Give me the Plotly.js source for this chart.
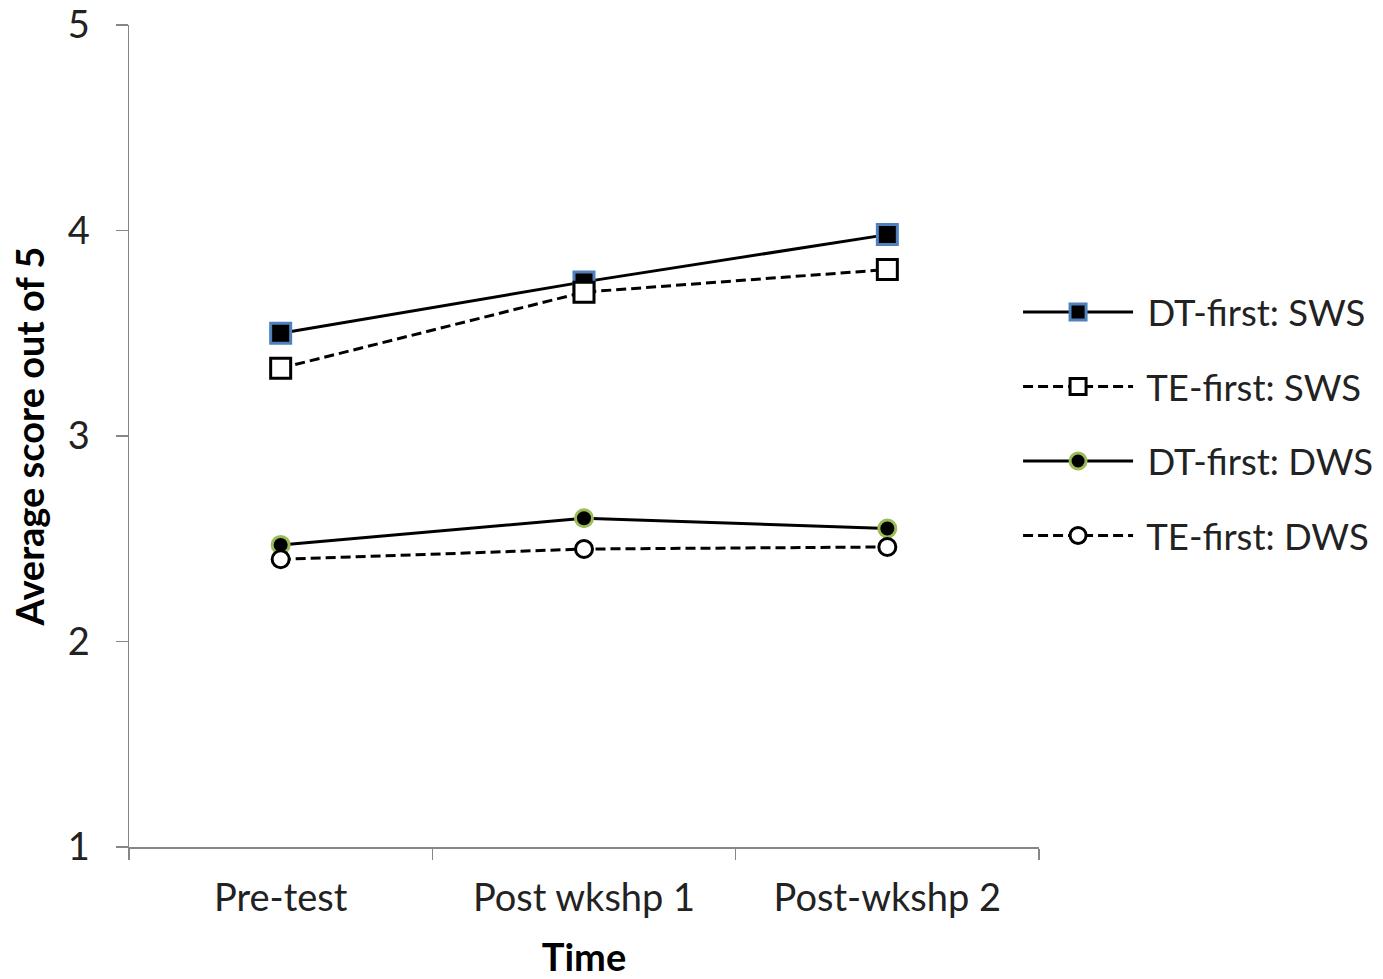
<!DOCTYPE html>
<html>
<head>
<meta charset="utf-8">
<script src="https://cdn.plot.ly/plotly-3.0.1.min.js"></script>
<style>
  html, body { margin: 0; padding: 0; background: #fff; }
  #chart { width: 1383px; height: 979px; }
</style>
</head>
<body>
<div id="chart"></div>
<script>
// Measurement occasions
const timePoints = ["Pre-test", "Post wkshp 1", "Post-wkshp 2"];

// Average scores (out of 5) per group and task
const dtFirstSWS = [3.50, 3.75, 3.98];
const teFirstSWS = [3.33, 3.70, 3.81];
const dtFirstDWS = [2.47, 2.60, 2.55];
const teFirstDWS = [2.40, 2.45, 2.46];

const seriesNames = ["DT-first: SWS", "TE-first: SWS", "DT-first: DWS", "TE-first: DWS"];

const FONT = "Lato, 'Open Sans', 'Liberation Sans', sans-serif";
const TXT = 38;

function series(name, values, dash, symbol, fill, edge, size, group) {
  return {
    type: "scatter",
    mode: "lines+markers",
    // a little breathing room between the legend symbol and its label
    name: "\u00A0" + name,
    legendgroup: group,
    x: timePoints,
    y: values,
    line: { color: "#000000", width: 3, dash: dash },
    marker: { symbol: symbol, size: size, color: fill, line: { color: edge, width: 3 } }
  };
}

const traces = [
  series(seriesNames[0], dtFirstSWS, "solid", "square", "#000000", "#4F81BD", 20, "g1"),
  series(seriesNames[1], teFirstSWS, "10px,5px", "square", "#ffffff", "#000000", 20, "g2"),
  series(seriesNames[2], dtFirstDWS, "solid", "circle", "#000000", "#9BBB59", 17, "g3"),
  series(seriesNames[3], teFirstDWS, "10px,5px", "circle", "#ffffff", "#000000", 17, "g4")
];

const axisColor = "#868686";

const layout = {
  width: 1383,
  height: 979,
  paper_bgcolor: "#ffffff",
  plot_bgcolor: "#ffffff",
  margin: { l: 129, r: 344, t: 25, b: 132, autoexpand: false },
  font: { family: FONT, color: "#222222", size: TXT },
  showlegend: true,
  legend: {
    x: 0.977, xanchor: "left",
    y: 0.6875, yanchor: "top",
    font: { family: FONT, size: 36.5, color: "#222222" },
    itemwidth: 110,
    traceorder: "grouped",
    tracegroupgap: 24,
    bgcolor: "rgba(0,0,0,0)"
  },
  xaxis: {
    type: "category",
    range: [-0.5, 2.5],
    tickson: "boundaries",
    ticks: "outside",
    ticklen: 11,
    tickwidth: 1.5,
    tickcolor: axisColor,
    showline: true,
    linecolor: axisColor,
    linewidth: 1.5,
    showgrid: false,
    zeroline: false,
    ticklabelstandoff: 17,
    tickfont: { family: FONT, size: TXT, color: "#222222" },
    title: { text: "<b>Time</b>", font: { family: FONT, size: TXT, color: "#000000" }, standoff: 32 }
  },
  yaxis: {
    range: [1, 5],
    dtick: 1,
    ticks: "outside",
    ticklen: 12,
    tickwidth: 1.5,
    tickcolor: axisColor,
    showline: true,
    linecolor: axisColor,
    linewidth: 1.5,
    showgrid: false,
    zeroline: false,
    ticklabelstandoff: 18,
    tickfont: { family: FONT, size: TXT, color: "#222222" },
    title: { text: "<b>Average score out of 5</b>", font: { family: FONT, size: TXT, color: "#000000" }, standoff: 11 }
  }
};

Plotly.newPlot("chart", traces, layout, { displayModeBar: false, staticPlot: true });
</script>
</body>
</html>
